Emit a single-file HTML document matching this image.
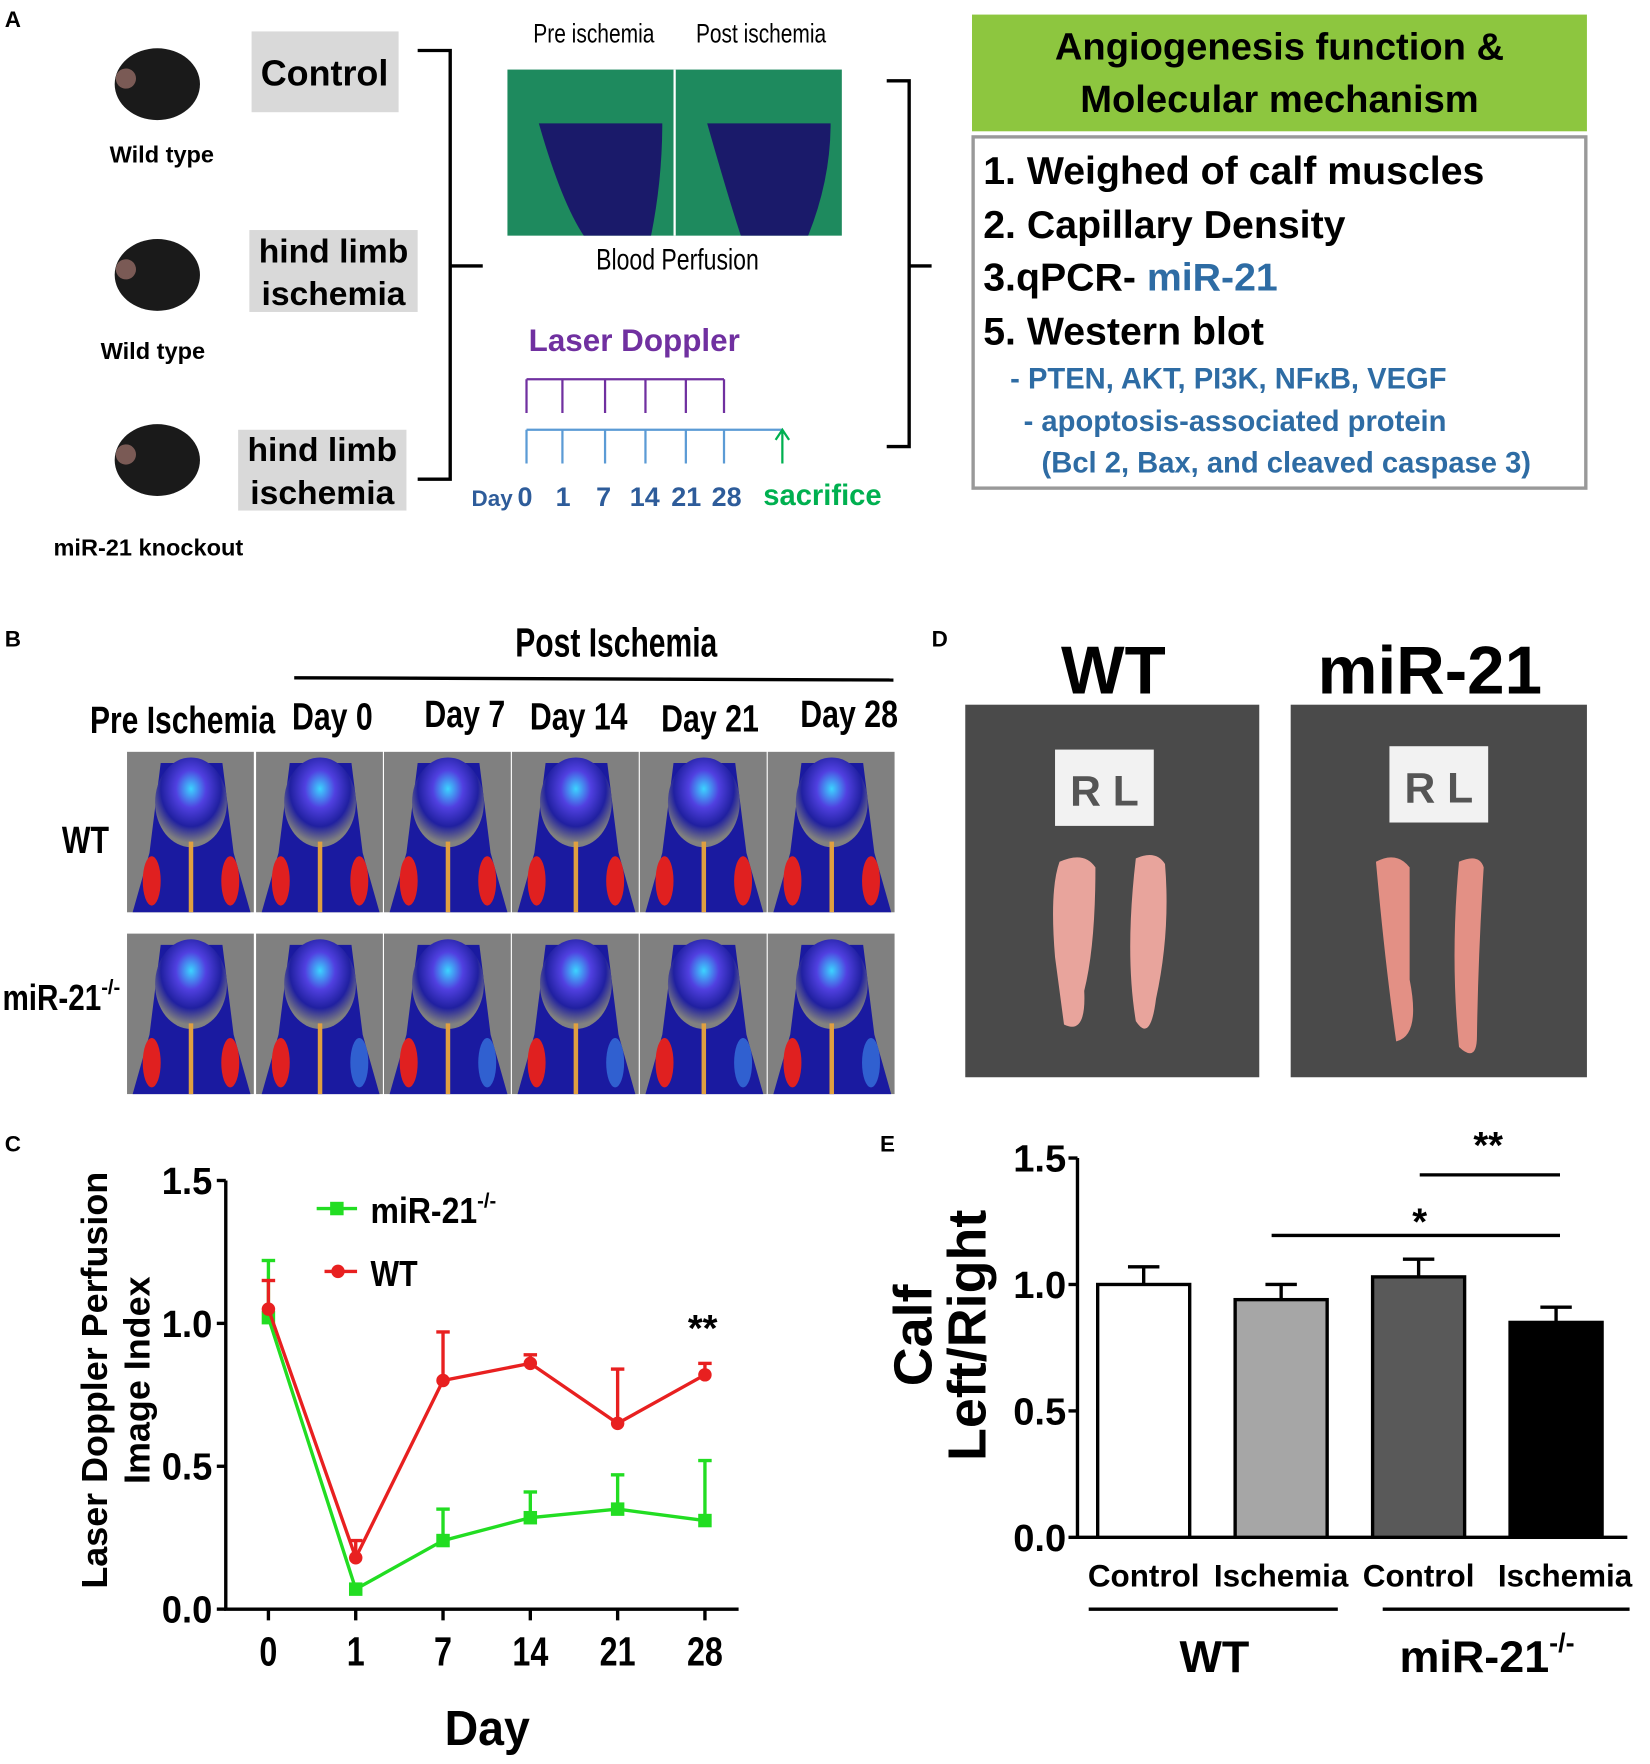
<!DOCTYPE html>
<html><head><meta charset="utf-8"><style>
html,body{margin:0;padding:0;background:#fff}
svg{display:block}
text{font-family:"Liberation Sans",sans-serif}
.b{font-weight:bold}
.n{font-family:"Liberation Sans",sans-serif;font-weight:bold}
</style></head><body>
<svg id="fig" width="1650" height="1764" viewBox="0 0 1470 1572" xmlns="http://www.w3.org/2000/svg">
<defs>
<radialGradient id="heat" cx="50%" cy="35%" r="60%"><stop offset="0" stop-color="#3cd4ff"/><stop offset="0.35" stop-color="#5040e0"/><stop offset="0.7" stop-color="#2020a0"/><stop offset="1" stop-color="#808080"/></radialGradient>
</defs>
<!-- Panel A -->
<text x="4" y="24" class="b" font-size="20">A</text>
<g><ellipse cx="140" cy="75" rx="38" ry="32" fill="#1a1a1a"/><ellipse cx="112" cy="70" rx="9" ry="9" fill="#7a5a55"/></g>
<g><ellipse cx="140" cy="245" rx="38" ry="32" fill="#1a1a1a"/><ellipse cx="112" cy="240" rx="9" ry="9" fill="#7a5a55"/></g>
<g><ellipse cx="140" cy="410" rx="38" ry="32" fill="#1a1a1a"/><ellipse cx="112" cy="405" rx="9" ry="9" fill="#7a5a55"/></g>
<text x="144" y="145" text-anchor="middle" class="b" font-size="21">Wild type</text>
<text x="136" y="320" text-anchor="middle" class="b" font-size="21">Wild type</text>
<text x="132" y="495" text-anchor="middle" class="b" font-size="21">miR-21 knockout</text>
<rect x="224" y="28" width="131" height="72" fill="#d9d9d9"/>
<text x="289" y="76" text-anchor="middle" class="b" font-size="32">Control</text>
<rect x="222" y="205" width="150" height="73" fill="#d9d9d9"/>
<text x="297" y="234" text-anchor="middle" class="b" font-size="30"><tspan x="297">hind limb</tspan><tspan x="297" dy="38">ischemia</tspan></text>
<rect x="212" y="383" width="150" height="72" fill="#d9d9d9"/>
<text x="287" y="411" text-anchor="middle" class="b" font-size="30"><tspan x="287">hind limb</tspan><tspan x="287" dy="38">ischemia</tspan></text>
<path d="M372 45 H401 V427 H372 M401 237 H430" fill="none" stroke="#000" stroke-width="3"/>
<text x="475" y="38" font-size="24" textLength="108" lengthAdjust="spacingAndGlyphs">Pre ischemia</text>
<text x="620" y="38" font-size="24" textLength="116" lengthAdjust="spacingAndGlyphs">Post ischemia</text>
<rect x="452" y="62" width="298" height="148" fill="#1e8a5e"/>
<line x1="601" y1="62" x2="601" y2="210" stroke="#fff" stroke-width="2"/>
<path d="M480 110 Q500 180 520 210 L580 210 Q590 160 590 110" fill="#1a1a6a"/>
<path d="M630 110 Q650 180 660 210 L720 210 Q740 160 740 110" fill="#1a1a6a"/>
<text x="531" y="240" font-size="26" textLength="145" lengthAdjust="spacingAndGlyphs">Blood Perfusion</text>
<text x="565" y="313" text-anchor="middle" font-size="28" class="b" fill="#7030a0">Laser Doppler</text>
<path d="M469 338 H645" stroke="#7030a0" stroke-width="2"/>
<g stroke="#7030a0" stroke-width="2" fill="none"><path d="M469 338V368M501 338V368M539 338V368M575 338V368M611 338V368M645 338V368"/></g>
<path d="M469 383 H697 M469 383V413M501 383V413M539 383V413M575 383V413M611 383V413M645 383V413" stroke="#5b9bd5" stroke-width="2" fill="none"/>
<path d="M697 413 V385 M691 392 L697 383 L703 392" stroke="#00b050" stroke-width="2" fill="none"/>
<text y="451" font-size="24" class="b" fill="#2e5c9a"><tspan x="420" font-size="20">Day</tspan><tspan x="461">0</tspan><tspan x="495">1</tspan><tspan x="531">7</tspan><tspan x="561">14</tspan><tspan x="598">21</tspan><tspan x="634">28</tspan></text>
<text x="680" y="450" font-size="26" class="b" fill="#00b050">sacrifice</text>
<path d="M790 72 H810 V237 H830 M810 237 V398 H790" fill="none" stroke="#000" stroke-width="3"/>
<rect x="866" y="13" width="548" height="104" fill="#8dc63f"/>
<text x="1140" y="53" text-anchor="middle" font-size="34" class="b"><tspan x="1140">Angiogenesis function &amp;</tspan><tspan x="1140" dy="47">Molecular mechanism</tspan></text>
<rect x="867" y="122" width="546" height="313" fill="none" stroke="#999" stroke-width="3"/>
<g class="b">
<text x="876" y="164" font-size="35">1. Weighed of calf muscles</text>
<text x="876" y="212" font-size="35">2. Capillary Density</text>
<text x="876" y="259" font-size="35">3.qPCR- <tspan fill="#2e6ca4">miR-21</tspan></text>
<text x="876" y="307" font-size="35">5. Western blot</text>
<text x="900" y="346" font-size="26" fill="#2e6ca4">- PTEN, AKT, PI3K, NFκB, VEGF</text>
<text x="912" y="384" font-size="26" fill="#2e6ca4">- apoptosis-associated protein</text>
<text x="928" y="421" font-size="26" fill="#2e6ca4">(Bcl 2, Bax, and cleaved caspase 3)</text>
</g>
<!-- Panel B -->
<text x="4" y="576" class="b" font-size="20">B</text>
<text x="459" y="585" font-size="36" class="n" textLength="180" lengthAdjust="spacingAndGlyphs">Post Ischemia</text>
<line x1="262" y1="604" x2="796" y2="606" stroke="#000" stroke-width="3"/>
<g font-size="34" class="n">
<text x="80" y="653" textLength="165" lengthAdjust="spacingAndGlyphs">Pre Ischemia</text>
<text x="260" y="650" textLength="72" lengthAdjust="spacingAndGlyphs">Day 0</text>
<text x="378" y="648" textLength="72" lengthAdjust="spacingAndGlyphs">Day 7</text>
<text x="472" y="650" textLength="87" lengthAdjust="spacingAndGlyphs">Day 14</text>
<text x="589" y="652" textLength="87" lengthAdjust="spacingAndGlyphs">Day 21</text>
<text x="713" y="648" textLength="87" lengthAdjust="spacingAndGlyphs">Day 28</text>
</g>
<text x="55" y="760" font-size="34" class="n" textLength="42" lengthAdjust="spacingAndGlyphs">WT</text>
<text x="2" y="900" font-size="32" class="n"><tspan textLength="88" lengthAdjust="spacingAndGlyphs">miR-21</tspan><tspan font-size="18" dy="-14">-/-</tspan></text>
<g id="bimgs"></g>
<!-- Panel D -->
<text x="830" y="576" class="b" font-size="20">D</text>
<text x="992" y="618" text-anchor="middle" font-size="60" class="b">WT</text>
<text x="1274" y="618" text-anchor="middle" font-size="60" class="b">miR-21</text>
<g><rect x="860" y="628" width="262" height="332" fill="#4a4a4a"/><rect x="940" y="668" width="88" height="68" fill="#f2f2f2"/><text x="984" y="718" text-anchor="middle" font-size="38" class="b" fill="#555">R L</text><path d="M1012 765 q18 -8 26 5 q5 60 -8 120 q-5 40 -18 20 q-10 -60 0 -145z" fill="#e8a49c"/><path d="M944 768 q22 -10 32 5 q0 70 -10 110 q2 40 -18 30 q-4 -30 -8 -60 q-5 -60 4 -85z" fill="#e8a49c"/></g>
<g><rect x="1150" y="628" width="264" height="332" fill="#4a4a4a"/><rect x="1238" y="665" width="88" height="68" fill="#f2f2f2"/><text x="1282" y="715" text-anchor="middle" font-size="38" class="b" fill="#555">R L</text><path d="M1300 768 q18 -8 22 5 q-5 80 -6 150 q0 25 -16 10 q-8 -80 0 -165z" fill="#e39085"/><path d="M1226 768 q18 -10 30 5 q0 60 0 100 q10 50 -12 55 q-10 -70 -18 -160z" fill="#e39085"/></g>
<!-- Panel C -->
<text x="4" y="1026" class="b" font-size="20">C</text>
<g id="chartC"></g>
<!-- Panel E -->
<text x="784" y="1026" class="b" font-size="20">E</text>
<g id="chartE"></g>
</svg>
<script>
const NS='http://www.w3.org/2000/svg';
function mk(p,t,a,txt){const e=document.createElementNS(NS,t);for(const k in a)e.setAttribute(k,a[k]);if(txt!==undefined)e.textContent=txt;p.appendChild(e);return e;}
const bg=document.getElementById('bimgs');
const colX=[113,228,342,456,570,684];
[670,832].forEach((y,r)=>colX.forEach((x,c)=>{
 const g=mk(bg,'g',{});
 
 
 mk(g,'rect',{x:x,y:y,width:113,height:143,fill:'#808080'});
 mk(g,'path',{d:`M${x+5} ${y+143} L${x+20} ${y+90} L${x+30} ${y+10} L${x+85} ${y+10} L${x+95} ${y+90} L${x+110} ${y+143} Z`,fill:'#1a1aa0'});
 mk(g,'ellipse',{cx:x+57,cy:y+45,rx:32,ry:40,fill:'url(#heat)'});
 mk(g,'ellipse',{cx:x+22,cy:y+115,rx:8,ry:22,fill:'#e02020'});
 mk(g,'ellipse',{cx:x+92,cy:y+115,rx:8,ry:22,fill:r==1&&c>0?'#3060d0':'#e02020'});
 mk(g,'line',{x1:x+57,y1:y+80,x2:x+57,y2:y+143,stroke:'#e0a040','stroke-width':4});
}));

const daysC=['0','1','7','14','21','28'];
const wtVals=[1.05,0.18,0.80,0.86,0.65,0.82];
const wtErr=[0.10,0.06,0.17,0.03,0.19,0.04];
const koVals=[1.02,0.07,0.24,0.32,0.35,0.31];
const koErr=[0.20,0.00,0.11,0.09,0.12,0.21];
const yTicksC=[0,0.5,1.0,1.5];
(function(){
 const g=document.getElementById('chartC');
 const y0=1434,yTop=1052,max=1.5;
 const Y=v=>y0-(v/max)*(y0-yTop);
 const X=i=>239+i*77.8;
 const ax=mk(g,'path',{d:`M201 ${yTop} V${y0} H${X(5)+30}`,fill:'none',stroke:'#000','stroke-width':3});
 
 yTicksC.forEach(t=>{mk(g,'line',{x1:193,x2:201,y1:Y(t),y2:Y(t),stroke:'#000','stroke-width':3});
  const tx=mk(g,'text',{x:189,y:Y(t)+12,'text-anchor':'end','font-size':34,class:'n',textLength:45,lengthAdjust:'spacingAndGlyphs'},t.toFixed(1));
  });
 daysC.forEach((d,i)=>{mk(g,'line',{x1:X(i),x2:X(i),y1:y0,y2:y0+10,stroke:'#000','stroke-width':3});
  const tx=mk(g,'text',{x:X(i),y:1484,'text-anchor':'middle','font-size':36,class:'n',textLength:d.length*16,lengthAdjust:'spacingAndGlyphs'},d);
  });
 const xt=mk(g,'text',{x:434,y:1555,'text-anchor':'middle','font-size':44,class:'n',textLength:76,lengthAdjust:'spacingAndGlyphs'},'Day');
 
 const yt=mk(g,'text',{transform:'translate(95,1230) rotate(-90)','text-anchor':'middle','font-size':32,class:'b'});
 
 mk(yt,'tspan',{x:0,y:0},'Laser Doppler Perfusion');mk(yt,'tspan',{x:0,y:38},'Image Index');
 function series(vals,errs,col,shape,name){
  const sg=mk(g,'g',{});
  vals.forEach((v,i)=>{if(errs[i]>0){mk(sg,'line',{x1:X(i),x2:X(i),y1:Y(v),y2:Y(v+errs[i]),stroke:col,'stroke-width':3});mk(sg,'line',{x1:X(i)-6,x2:X(i)+6,y1:Y(v+errs[i]),y2:Y(v+errs[i]),stroke:col,'stroke-width':3});}});
  mk(sg,'polyline',{points:vals.map((v,i)=>X(i)+','+Y(v)).join(' '),fill:'none',stroke:col,'stroke-width':3});
  vals.forEach((v,i)=>{const m=shape==='sq'?mk(sg,'rect',{x:X(i)-6,y:Y(v)-6,width:12,height:12,fill:col}):mk(sg,'circle',{cx:X(i),cy:Y(v),r:6,fill:col});
   });
 }
 series(koVals,koErr,'#22dd22','sq','ko-series');
 series(wtVals,wtErr,'#e82020','ci','wt-series');
 const lg=mk(g,'g',{});
 mk(lg,'line',{x1:282,x2:318,y1:1077,y2:1077,stroke:'#22dd22','stroke-width':3});mk(lg,'rect',{x:294,y:1071,width:12,height:12,fill:'#22dd22'});
 const l1=mk(lg,'text',{x:330,y:1090,'font-size':32,class:'n'});mk(l1,'tspan',{textLength:95,lengthAdjust:'spacingAndGlyphs'},'miR-21');mk(l1,'tspan',{dy:-14,'font-size':18},'-/-');
 mk(lg,'line',{x1:289,x2:318,y1:1133,y2:1133,stroke:'#e82020','stroke-width':3});mk(lg,'circle',{cx:301,cy:1133,r:6,fill:'#e82020'});
 mk(lg,'text',{x:330,y:1146,'font-size':32,class:'n',textLength:42,lengthAdjust:'spacingAndGlyphs'},'WT');
 const st=mk(g,'text',{x:626,y:1195,'text-anchor':'middle','font-size':34,class:'b'},'**');
 
})();

const barLabels=['Control','Ischemia','Control','Ischemia'];
const barVals=[1.00,0.94,1.03,0.85];
const barErr=[0.07,0.06,0.07,0.06];
const barFills=['#ffffff','#a6a6a6','#595959','#000000'];
const yTicksE=[0,0.5,1.0,1.5];
(function(){
 const g=document.getElementById('chartE');
 const y0=1370,yTop=1032,max=1.5;
 const Y=v=>y0-(v/max)*(y0-yTop);
 const X=i=>1019+i*122.5;
 const bw=82;
 mk(g,'path',{d:`M960 ${yTop} V${y0} H1450`,fill:'none',stroke:'#000','stroke-width':3});
 yTicksE.forEach(t=>{mk(g,'line',{x1:952,x2:960,y1:Y(t),y2:Y(t),stroke:'#000','stroke-width':3});
  const tx=mk(g,'text',{x:950,y:Y(t)+12,'text-anchor':'end','font-size':34,class:'b'},t.toFixed(1));
  });
 barVals.forEach((v,i)=>{
  const b=mk(g,'rect',{x:X(i)-bw/2,y:Y(v),width:bw,height:y0-Y(v),fill:barFills[i],stroke:'#000','stroke-width':3});
  
  mk(g,'line',{x1:X(i),x2:X(i),y1:Y(v),y2:Y(v+barErr[i]),stroke:'#000','stroke-width':3});
  mk(g,'line',{x1:X(i)-14,x2:X(i)+14,y1:Y(v+barErr[i]),y2:Y(v+barErr[i]),stroke:'#000','stroke-width':3});
  const tx=mk(g,'text',{x:X(i)+(i==3?8:0),y:1414,'text-anchor':'middle','font-size':28,class:'b'},barLabels[i]);
  
 });
 mk(g,'line',{x1:970,x2:1192,y1:1434,y2:1434,stroke:'#000','stroke-width':3});
 mk(g,'line',{x1:1232,x2:1452,y1:1434,y2:1434,stroke:'#000','stroke-width':3});
 const w=mk(g,'text',{x:1082,y:1490,'text-anchor':'middle','font-size':40,class:'b'},'WT');
 const k=mk(g,'text',{x:1325,y:1490,'text-anchor':'middle','font-size':40,class:'b'},'miR-21');mk(k,'tspan',{dy:-18,'font-size':24},'-/-');
 
 const yt=mk(g,'text',{transform:'translate(830,1190) rotate(-90)','text-anchor':'middle','font-size':48,class:'b'});
 
 mk(yt,'tspan',{x:0,y:0},'Calf');mk(yt,'tspan',{x:0,y:48},'Left/Right');
 mk(g,'line',{x1:1133,x2:1390,y1:1101,y2:1101,stroke:'#000','stroke-width':3});
 mk(g,'line',{x1:1265,x2:1390,y1:1047,y2:1047,stroke:'#000','stroke-width':3});
 mk(g,'text',{x:1265,y:1100,'text-anchor':'middle','font-size':34,class:'b'},'*');
 mk(g,'text',{x:1326,y:1032,'text-anchor':'middle','font-size':34,class:'b'},'**');
})();
</script>
</body></html>
